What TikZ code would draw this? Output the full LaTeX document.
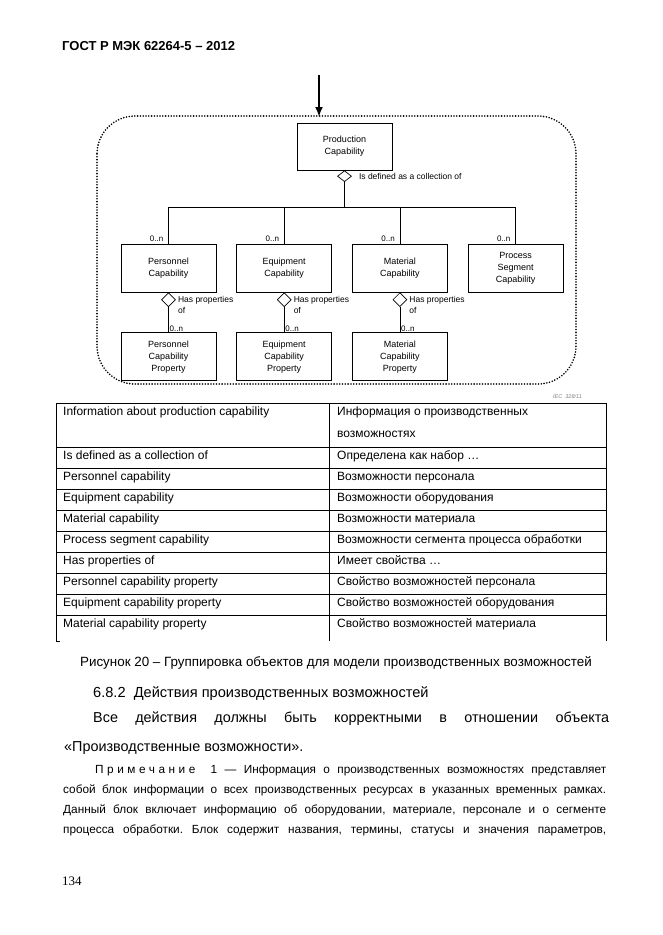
\documentclass[tikz,border=0pt]{standalone}
\usepackage{fontspec}
\setmainfont{Liberation Sans}
\newfontfamily\pagefont{Liberation Serif}
\usetikzlibrary{positioning, shapes.geometric, arrows.meta}
\frenchspacing

\tikzset{
  box/.style={draw, line width=0.7pt, minimum width=95pt, minimum height=48pt, align=center, font=\fontsize{9}{12}\selectfont},
  agg/.style={diamond, draw, line width=0.7pt, fill=white, inner sep=0pt, minimum width=14pt, minimum height=14pt},
  mult/.style={font=\fontsize{8}{9}\selectfont, inner sep=1pt},
  note/.style={font=\fontsize{8.5}{11}\selectfont, align=left, inner sep=1pt},
  link/.style={line width=0.7pt},
  dotframe/.style={line width=1.8pt, dash pattern=on 0pt off 2.8pt, line cap=round, rounded corners=38pt},
  tabline/.style={line width=1pt},
  tabtext/.style={anchor=base west, inner sep=0pt, font=\fontsize{12}{14}\selectfont},
  line/.style={anchor=base west, inner sep=0pt},
}

\begin{document}
\begin{tikzpicture}[x=1pt, y=-1pt, >=Latex]
  \fill[white] (0,0) rectangle (662,935);
  \useasboundingbox (0,0) rectangle (662,935);

  % page header
  \node[line, font=\bfseries\fontsize{13}{15}\selectfont] (head) at (62,50) {ГОСТ Р МЭК 62264-5 – 2012};

  % frame and incoming arrow
  \draw[dotframe] (97,116) rectangle (576,384);
  \coordinate (in) at (319,75);
  \coordinate (intip) at (319,117);
  \draw[line width=2.2pt, -{Latex[length=10pt,width=8pt]}] (in) -- (intip);

  % objects
  \node[box, minimum height=47pt] (prod) at (344.5,146.5) {Production\\Capability};
  \node[agg, minimum height=11pt, below=0pt of prod] (prodagg) {};
  \node[note, right=6pt of prodagg] (prodhas) {Is defined as a collection of};

  \node[box] (per) at (168.5,268) {Personnel\\Capability};
  \node[box, right=20pt of per] (equ) {Equipment\\Capability};
  \node[box, right=20pt of equ] (mat) {Material\\Capability};
  \node[box, right=20pt of mat] (pseg) {Process\\Segment\\Capability};

  \node[box, below=40pt of per] (perprop) {Personnel\\Capability\\Property};
  \node[box, below=40pt of equ] (equprop) {Equipment\\Capability\\Property};
  \node[box, below=40pt of mat] (matprop) {Material\\Capability\\Property};

  % collection
  \coordinate (bus) at (prodagg.south |- 0,207);
  \draw[link] (prodagg) -- (bus);
  \draw[link] (per) -- (per |- bus) -- (pseg |- bus) -- (pseg);
  \draw[link] (equ) -- (equ |- bus);
  \draw[link] (mat) -- (mat |- bus);
  \foreach \n in {per,equ,mat,pseg}
    \node[mult, above left=1pt and 4pt of \n.north] (\n mult) {0..n};

  % properties
  \foreach \n in {per,equ,mat}{
    \node[agg, below=0pt of \n] (\n agg) {};
    \node[note, right=1pt of \n agg, yshift=-5pt] (\n has) {Has properties\\of};
    \draw[link] (\n agg) -- (\n prop);
    \node[mult, anchor=south west] (\n pmult) at (\n prop.north) {0..n};
  }

  \node[line, font=\itshape\fontsize{5.5}{6}\selectfont, text=gray] (iec) at (553,398) {IEC\ \ 328/11};

  % table
  \foreach \y in {403,447,468,489,510,531,552,573,594,615}
    \draw[tabline] (56,\y) -- (606,\y);
  \draw[tabline] (56,403) -- (56,641) -- (60,641);
  \draw[tabline] (329,403) -- (329,641);
  \draw[tabline] (606,403) -- (606,641);

  \foreach \y/\en/\ru [count=\i] in {
      415/Information about production capability/Информация о производственных,
      459/Is defined as a collection of/Определена как набор …,
      480/Personnel capability/Возможности персонала,
      501/Equipment capability/Возможности оборудования,
      522/Material capability/Возможности материала,
      543/Process segment capability/Возможности сегмента процесса обработки,
      564/Has properties of/Имеет свойства …,
      585/Personnel capability property/Свойство возможностей персонала,
      606/Equipment capability property/Свойство возможностей оборудования,
      627/Material capability property/Свойство возможностей материала}{
    \node[tabtext] (en\i) at (63,\y) {\en};
    \node[tabtext] (ru\i) at (337,\y) {\ru};
  }
  \node[tabtext] (ru0) at (337,437) {возможностях};

  % caption and text
  \node[anchor=base, inner sep=0pt, font=\fontsize{13.4}{15}\selectfont] (cap) at (336,666) {Рисунок 20 – Группировка объектов для модели производственных возможностей};
  \node[line, font=\fontsize{14.6}{17}\selectfont] (sec) at (93,697) {6.8.2\ \ Действия производственных возможностей};
  \node[line, font=\fontsize{14.4}{17}\selectfont] (p1) at (93,722) {\makebox[516pt][s]{Все действия должны быть корректными в отношении объекта}};
  \node[line, font=\fontsize{14.4}{17}\selectfont] (p2) at (64,751) {«Производственные возможности».};

  \node[line, font=\fontsize{11.8}{13}\selectfont] (n1) at (95,773) {\makebox[511pt][s]{{\addfontfeatures{LetterSpace=30}Примечание 1} — Информация о производственных возможностях представляет}};
  \node[line, font=\fontsize{11.8}{13}\selectfont] (n2) at (63,793) {\makebox[543pt][s]{собой блок информации о всех производственных ресурсах в указанных временных рамках.}};
  \node[line, font=\fontsize{11.8}{13}\selectfont] (n3) at (63,813) {\makebox[543pt][s]{Данный блок включает информацию об оборудовании, материале, персонале и о сегменте}};
  \node[line, font=\fontsize{11.8}{13}\selectfont] (n4) at (63,833) {\makebox[543pt][s]{процесса обработки. Блок содержит названия, термины, статусы и значения параметров,}};

  \node[line, font=\pagefont\fontsize{13}{15}\selectfont] (pg) at (62,885) {134};
\end{tikzpicture}
\end{document}
